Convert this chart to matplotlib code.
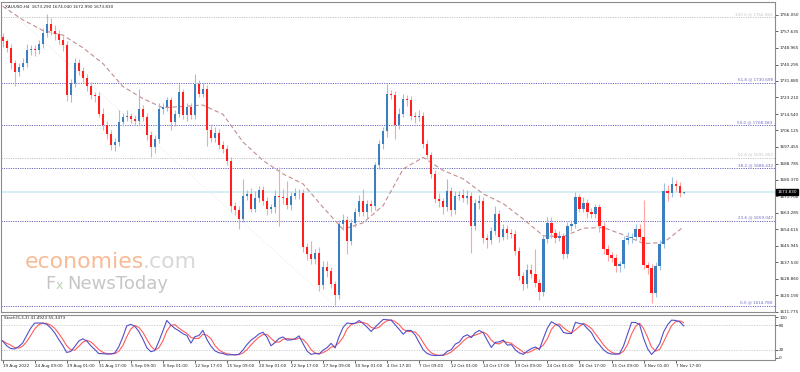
import matplotlib
matplotlib.use("Agg")
import matplotlib.pyplot as plt
import numpy as np
import pandas as pd

# XAUUSD candles (one per 8 hours), closes
first_open = 1754.5
closes = [
    1752.3, 1748.8, 1740.9, 1736.2, 1739.2, 1740.9, 1747.9, 1748.4, 1747.9, 1750.9,
    1756.6, 1761.3, 1757.8, 1756.1, 1753.1, 1750.5, 1724.4, 1730.5, 1740.9, 1736.9,
    1733.1, 1729.3, 1724.4, 1724.0, 1714.8, 1708.7, 1704.3, 1698.2, 1700.0, 1710.4,
    1713.1, 1713.6, 1711.8, 1710.8, 1717.4, 1713.1, 1703.5, 1697.3, 1701.7, 1717.4,
    1718.3, 1721.8, 1710.4, 1714.8, 1726.1, 1713.9, 1718.3, 1713.9, 1730.0, 1725.2,
    1727.5, 1706.1, 1702.0, 1704.7, 1698.6, 1696.5, 1690.0, 1666.8, 1664.7, 1660.2,
    1672.1, 1672.9, 1665.4, 1670.7, 1675.2, 1669.5, 1665.1, 1666.0, 1672.1, 1671.5,
    1670.7, 1667.2, 1672.1, 1673.3, 1673.5, 1645.6, 1641.5, 1639.3, 1642.4, 1625.4,
    1635.1, 1632.8, 1625.9, 1620.6, 1657.3, 1659.5, 1648.5, 1657.8, 1663.7, 1669.5,
    1663.4, 1667.7, 1666.5, 1687.8, 1699.1, 1705.7, 1725.2, 1724.4, 1708.7, 1714.8,
    1722.6, 1721.9, 1713.6, 1712.9, 1713.5, 1699.1, 1693.0, 1683.4, 1670.3, 1669.1,
    1666.0, 1674.7, 1664.7, 1671.7, 1672.4, 1670.7, 1672.1, 1656.4, 1668.2, 1669.5,
    1650.3, 1649.0, 1653.7, 1662.5, 1650.8, 1654.6, 1652.5, 1652.0, 1643.3, 1630.2,
    1625.9, 1633.4, 1631.1, 1626.7, 1621.8, 1649.4, 1657.8, 1652.9, 1650.3, 1650.9,
    1641.5, 1656.4, 1657.3, 1671.2, 1665.4, 1668.2, 1663.7, 1662.5, 1666.0, 1656.4,
    1644.5, 1641.0, 1639.8, 1635.5, 1636.3, 1649.0, 1650.3, 1650.8, 1654.6, 1650.8,
    1635.8, 1634.6, 1621.5, 1635.5, 1646.8, 1674.7, 1673.5, 1678.1, 1677.3, 1673.3,
    1673.83,
]
# wick lengths above / below the body, in dollars
wick_up = [
    2, 1.5, 2, 1.5, 2, 3, 3, 2, 2, 2,
    2.5, 5.3, 3, 3, 2, 2, 2, 2, 3, 2,
    2, 2, 2, 1.5, 2, 3, 2, 2, 2, 6,
    2, 3, 1.5, 2, 10, 2, 2, 2, 2, 3,
    2, 1.5, 1.5, 2, 4, 1.5, 2, 2, 5.5, 2,
    3, 2, 3, 3, 2, 2, 2, 2, 2, 2,
    8.5, 2, 3, 4, 2, 2, 2, 2, 3, 15,
    4, 9, 2, 3, 2, 2, 2, 7, 2, 3,
    3, 3, 2, 2, 2, 3, 2, 2, 2, 3,
    6, 2, 2, 2, 2, 2, 5, 2, 2, 3,
    2.5, 2, 2, 2, 3, 2, 2, 2, 2, 3,
    2, 6, 2, 3, 2, 3, 3, 2, 2, 3,
    2, 2, 2, 4, 2, 3, 2, 2, 2, 2,
    2, 3, 3, 13, 2, 2, 3, 3, 2, 3,
    2, 2, 2, 3, 2, 3, 2, 2, 2, 2,
    2, 2, 2, 2, 2, 2, 3, 2, 3, 3,
    19, 2, 2, 2, 2, 4, 3, 3.5, 2, 2,
    0.21,
]
wick_dn = [
    3, 2, 3, 7, 2, 2, 2, 2.5, 3, 2,
    2, 2, 2, 3, 2, 3, 3, 3.5, 2, 2,
    2.5, 3, 2, 3, 2, 2.5, 3, 2.6, 3, 2,
    2, 2, 2, 2, 2, 2, 2.5, 5, 3, 2,
    3, 2, 4, 2, 2, 2, 3, 2, 2, 2,
    2, 8, 2, 2, 2, 2, 2, 3, 2.5, 5.5,
    2, 2.5, 2, 2, 2, 2.5, 3, 2, 3, 15,
    3, 2, 2.5, 2, 3, 3, 3, 3, 3, 3,
    2, 3, 2, 5.2, 2, 3, 7, 2, 2, 2,
    2, 3, 3, 2, 2, 2.5, 3, 2, 7, 2,
    2, 3, 2, 3, 2, 2, 2, 2, 2, 3,
    3.5, 2, 3, 2, 2, 2, 3, 14, 2, 3,
    3, 4, 2, 2, 3, 2, 3, 2, 2, 2,
    3, 2, 2, 2, 4, 2, 2, 3, 3, 2,
    2.5, 2, 2.5, 2, 2, 2, 3, 2, 2, 3,
    3, 3, 2, 3, 3, 2, 2, 3, 2, 2,
    2, 3, 5, 2, 2, 2, 4, 2, 3, 2,
    0.31,
]

# moving average (dashed line), sampled every 5 candles
ma_idx = list(range(0, 171, 5))
ma_vals = [
    1770.6, 1763.6, 1758.0, 1755.6, 1749.1, 1740.9, 1728.9, 1722.6, 1717.8, 1718.5,
    1719.2, 1714.4, 1700.0, 1690.4, 1683.4, 1678.2, 1666.0, 1654.6, 1658.0, 1667.0,
    1686.0, 1692.0, 1685.2, 1680.8, 1673.0, 1667.9, 1659.9, 1651.2, 1650.8, 1655.2,
    1655.5, 1651.7, 1647.2, 1647.7, 1655.9,
]

# fibonacci levels
fib_labels = ["100.0", "61.8", "50.0", "61.8", "38.2", "23.6", "0.0"]
fib_prices = [1764.965, 1730.698, 1708.583, 1691.852, 1686.432, 1659.047, 1614.780]
fib_grey = [True, False, False, True, False, False, False]

price_ticks = [1766.050, 1757.635, 1748.965, 1740.295, 1731.880, 1723.210, 1714.540,
               1706.125, 1697.455, 1688.785, 1680.370, 1671.700, 1663.285, 1654.615,
               1645.945, 1637.530, 1628.860, 1620.190, 1611.775]
date_labels = ["19 Aug 2022", "24 Aug 09:00", "29 Aug 01:00", "31 Aug 17:00", "5 Sep 09:00",
               "8 Sep 01:00", "12 Sep 17:00", "15 Sep 09:00", "20 Sep 01:00", "22 Sep 17:00",
               "27 Sep 09:00", "30 Sep 01:00", "4 Oct 17:00", "7 Oct 09:00", "12 Oct 01:00",
               "14 Oct 17:00", "19 Oct 09:00", "24 Oct 01:00", "26 Oct 17:00", "31 Oct 09:00",
               "3 Nov 01:00", "7 Nov 17:00"]
last_price = 1673.830

# build OHLC
c = np.array(closes)
o = np.r_[first_open, c[:-1]]
h = np.maximum(o, c) + np.array(wick_up)
l = np.minimum(o, c) - np.array(wick_dn)
x = np.arange(len(c))
df = pd.DataFrame({"open": o, "high": h, "low": l, "close": c})

# Stochastic 5,3,3
ll = df["low"].rolling(5, min_periods=1).min()
hh = df["high"].rolling(5, min_periods=1).max()
k = 100 * (df["close"] - ll).rolling(3, min_periods=1).sum() / (hh - ll).rolling(3, min_periods=1).sum()
d = k.rolling(3, min_periods=1).mean()

W, H = 800, 372
fig = plt.figure(figsize=(8, 3.72), dpi=100)
fig.patch.set_facecolor("white")
ax = fig.add_axes([1 / W, 1 - 312 / H, 774 / W, 310 / H])
ax2 = fig.add_axes([1 / W, 1 - 360 / H, 774 / W, 45 / H])

xmin, xmax = -0.4, -0.4 + 774 / 4.006
frame = "#8c8c8c"

# watermark
fig.text(25 / W, 1 - 268 / H, "economies", fontsize=15.8, color="#f7bb95", va="baseline", zorder=0)
fig.text(143 / W, 1 - 268 / H, ".com", fontsize=15.8, color="#d8d8d8", va="baseline", zorder=0)
fig.text(45 / W, 1 - 289 / H, "F", fontsize=13, color="#c6c6c6", va="baseline", zorder=0)
fig.text(56 / W, 1 - 289 / H, "x", fontsize=9, color="#b5d3ad", va="baseline", zorder=0)
fig.text(67 / W, 1 - 289 / H, "NewsToday", fontsize=13, color="#c6c6c6", va="baseline", zorder=0)
ax.patch.set_alpha(0)

# current price line
ax.axhline(last_price, color="#d6eef5", lw=1.4, zorder=1)

# fibonacci levels
for lab, p, grey in zip(fib_labels, fib_prices, fib_grey):
    col = "#c4c4c4" if grey else "#6a6ac0"
    ax.axhline(p, color=col, lw=0.7, ls=(0, (1.2, 1.2)), zorder=1)
    ax.text(0.997, p + 0.6, f"{lab} @ {p:.3f}", transform=ax.get_yaxis_transform(),
            ha="right", va="bottom", fontsize=3, color=col)
# fib trend line
ax.plot([3.5, 83], [fib_prices[0], fib_prices[-1]], color="#e2e2e2", lw=0.5, ls=(0, (1, 1.5)), zorder=1)

# moving average
ax.plot(ma_idx, ma_vals, color="#c48d8d", lw=0.8, ls=(0, (4, 2.5)), zorder=2)

# candles
up = c >= o
bull, bear = "#3d7ebf", "#ff1f1f"
ax.vlines(x[up], l[up], h[up], color="#9dbfe0", lw=0.8, zorder=3)
ax.vlines(x[~up], l[~up], h[~up], color="#ffa3a3", lw=0.8, zorder=3)
body = np.maximum(np.abs(c - o), 0.3)
ax.bar(x[up], body[up], bottom=np.minimum(o, c)[up], width=0.55, color=bull, lw=0, zorder=4)
ax.bar(x[~up], body[~up], bottom=np.minimum(o, c)[~up], width=0.55, color=bear, lw=0, zorder=4)

ax.set_xlim(xmin, xmax)
ax.set_ylim(1611.6, 1772.8)
ax.set_xticks([])
ax.yaxis.tick_right()
ax.set_yticks(price_ticks)
ax.set_yticklabels([f"{v:.3f}" for v in price_ticks])
ax.tick_params(axis="y", labelsize=3, length=2, width=0.5, pad=1, colors="#222222")
for s in ax.spines.values():
    s.set_color(frame)
    s.set_linewidth(0.8)

ax.text(1.003, last_price, f"{last_price:.3f}", transform=ax.get_yaxis_transform(),
        ha="left", va="center", fontsize=3, color="white", zorder=10,
        bbox=dict(boxstyle="square,pad=0.25", facecolor="black", edgecolor="black"))

fig.text(5 / W, 1 - 7 / H, "XAUUSD,H4  1673.290 1674.040 1672.990 1673.830",
         fontsize=3, color="#222222", va="center")

# stochastic panel
ax2.axhline(80, color="#c8c8c8", lw=0.6, ls=(0, (1.5, 1.5)))
ax2.axhline(20, color="#c8c8c8", lw=0.6, ls=(0, (1.5, 1.5)))
ax2.plot(x, d, color="#ff5c5c", lw=0.8)
ax2.plot(x, k, color="#5050c8", lw=0.8)
ax2.set_xlim(xmin, xmax)
ax2.set_ylim(-6, 106)
ax2.yaxis.tick_right()
ax2.set_yticks([100, 80, 20, 0])
ax2.tick_params(axis="y", labelsize=3, length=2, width=0.5, pad=1, colors="#222222")
ax2.set_xticks(np.arange(len(date_labels)) * 8)
ax2.set_xticklabels(date_labels)
ax2.tick_params(axis="x", labelsize=3, length=2, width=0.5, pad=1, colors="#222222")
for lbl in ax2.get_xticklabels():
    lbl.set_ha("left")
for s in ax2.spines.values():
    s.set_color(frame)
    s.set_linewidth(0.8)
ax2.text(0.004, 0.97, "Stoch(5,3,3) 41.4923 55.3473", transform=ax2.transAxes,
         fontsize=3, color="#222222", va="top", ha="left")

fig.savefig("out.png", dpi=100)
